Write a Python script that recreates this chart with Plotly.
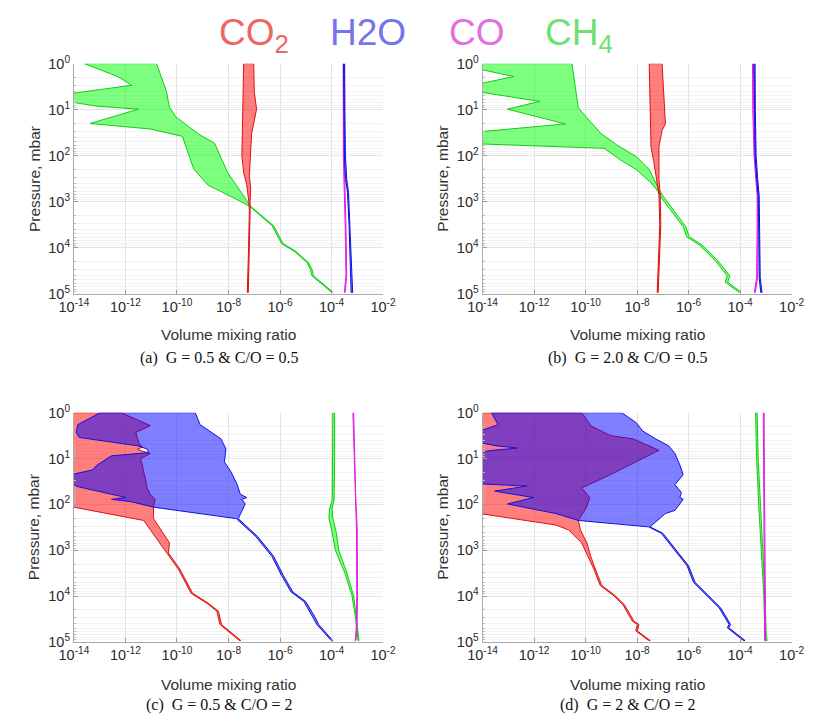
import plotly.graph_objects as go

# ---------------- data (log10 values) ----------------
# Panel (a)  G = 0.5, C/O = 0.5
A_CH4_LP = [0, 0.28, 0.47, 0.68, 0.80, 0.92, 0.99, 1.30, 1.42, 1.58, 2.29, 2.64, 2.99, 3.10, 3.52, 3.91, 4.08, 4.33, 4.47, 4.61, 4.96]
A_CH4_LX = [-13.6, -12.3, -11.76, -14.5, -14.5, -13.16, -11.5, -13.37, -11.04, -9.79, -9.35, -8.79, -7.54, -7.18, -6.31, -5.94, -5.44, -4.94, -4.82, -4.76, -4.01]
A_CH4_RP = [0, 0.6, 0.95, 1.16, 1.37, 1.53, 1.73, 2.36, 2.78, 3.10, 3.52, 3.91, 4.08, 4.33, 4.47, 4.61, 4.96]
A_CH4_RX = [-10.79, -10.41, -10.29, -10.04, -9.54, -9.16, -8.54, -8.04, -7.54, -7.14, -6.25, -5.88, -5.38, -4.88, -4.76, -4.70, -3.96]
A_CO2_LP = [0, 0.74, 2.0, 2.36, 2.64, 3.0, 3.2, 4.0, 4.97]
A_CO2_LX = [-7.41, -7.44, -7.48, -7.41, -7.29, -7.21, -7.19, -7.22, -7.27]
A_CO2_RP = [0, 0.6, 0.99, 1.30, 1.51, 2.0, 2.43, 2.71, 3.0, 3.2, 4.0, 4.97]
A_CO2_RX = [-7.02, -7.0, -6.91, -7.02, -7.10, -7.16, -7.19, -7.14, -7.16, -7.16, -7.18, -7.23]
A_H2O_P = [0, 1, 2, 2.5, 2.8, 3.5, 4.5, 4.97]
A_H2O_L = [-3.53, -3.52, -3.50, -3.46, -3.38, -3.32, -3.27, -3.24]
A_H2O_R = [-3.49, -3.48, -3.46, -3.41, -3.34, -3.28, -3.22, -3.18]
A_CO_P = [0, 1, 2, 2.5, 2.8, 3.5, 4.6, 4.97]
A_CO_L = [-3.55, -3.55, -3.54, -3.52, -3.50, -3.47, -3.44, -3.50]
A_CO_R = [-3.52, -3.52, -3.51, -3.49, -3.47, -3.44, -3.41, -3.47]

# Panel (b)  G = 2.0, C/O = 0.5
B_CH4_LP = [0, 0.1, 0.28, 0.46, 0.6, 0.82, 0.99, 1.31, 1.49, 1.74, 1.84, 2.09, 2.30, 2.59, 2.8, 2.9, 3.55, 3.76, 3.94, 4.29, 4.61, 4.75, 4.96]
B_CH4_LX = [-14.3, -14.3, -12.78, -14.3, -14.3, -11.78, -13.03, -10.78, -14.3, -14.3, -9.28, -8.65, -8.03, -7.46, -7.15, -7.08, -6.2, -6.08, -5.58, -4.95, -4.5, -4.58, -4.06]
B_CH4_RP = [0, 0.74, 0.96, 1.17, 1.52, 1.77, 2.02, 2.3, 2.73, 2.87, 3.55, 3.76, 3.94, 4.29, 4.61, 4.75, 4.96]
B_CH4_RX = [-10.53, -10.34, -10.28, -9.96, -9.4, -8.78, -8.03, -7.53, -7.15, -7.0, -6.1, -5.98, -5.48, -4.85, -4.4, -4.48, -3.98]
B_CO2_LP = [0, 1.8, 2.16, 2.52, 2.87, 3.5, 4.0, 4.97]
B_CO2_LX = [-7.53, -7.46, -7.34, -7.25, -7.15, -7.12, -7.15, -7.22]
B_CO2_RP = [0, 0.6, 1.31, 1.45, 1.8, 2.5, 2.87, 3.5, 4.0, 4.97]
B_CO2_RX = [-7.03, -6.96, -6.9, -7.03, -7.15, -7.15, -7.1, -7.08, -7.12, -7.18]
B_H2O_P = [0, 1, 2, 2.5, 2.87, 3.5, 4.65, 4.97]
B_H2O_L = [-3.46, -3.45, -3.42, -3.36, -3.30, -3.28, -3.26, -3.20]
B_H2O_R = [-3.42, -3.41, -3.38, -3.32, -3.26, -3.24, -3.22, -3.15]
B_CO_P = [0, 1, 2, 2.5, 2.87, 3.5, 4.65, 4.97]
B_CO_L = [-3.52, -3.51, -3.46, -3.40, -3.34, -3.34, -3.36, -3.45]
B_CO_R = [-3.48, -3.47, -3.42, -3.36, -3.30, -3.30, -3.32, -3.41]

# Panel (c)  G = 0.5, C/O = 2
C_CO2_LP = [0, 2.05, 2.35, 3.06, 3.41, 3.94, 4.16, 4.33, 4.62, 4.97]
C_CO2_LX = [-14.1, -14.1, -11.29, -10.41, -9.95, -9.45, -8.83, -8.45, -8.33, -7.58]
C_CO2_RP = [0, 0.28, 0.43, 0.65, 0.75, 0.8, 0.89, 1.0, 1.14, 1.43, 1.64, 1.78, 1.89, 2.06, 2.31, 2.84, 3.06, 3.41, 3.94, 4.16, 4.33, 4.62, 4.97]
C_CO2_RX = [-12.16, -11.04, -11.6, -11.48, -11.35, -11.54, -11.04, -11.41, -11.35, -11.23, -11.16, -11.04, -10.85, -10.91, -10.91, -10.29, -10.33, -9.89, -9.39, -8.77, -8.39, -8.27, -7.52]
C_H2O_LP = [0, 0.26, 0.43, 0.54, 0.72, 0.79, 0.87, 0.94, 1.14, 1.25, 1.35, 1.58, 1.78, 1.85, 1.89, 1.94, 2.06, 2.31, 2.7, 3.13, 3.55, 3.91, 4.12, 4.48, 4.62, 4.97]
C_H2O_LX = [-12.98, -13.85, -13.91, -13.79, -11.54, -11.16, -11.1, -12.54, -13.1, -13.29, -14.1, -14.1, -12.54, -11.98, -12.54, -11.79, -10.91, -7.7, -6.94, -6.32, -5.94, -5.57, -5.07, -4.69, -4.57, -4.01]
C_H2O_RP = [0, 0.26, 0.43, 0.57, 0.79, 1.07, 1.28, 1.57, 1.78, 1.85, 1.89, 1.99, 2.31, 2.7, 3.13, 3.55, 3.91, 4.12, 4.48, 4.62, 4.97]
C_H2O_RX = [-9.29, -9.1, -8.66, -8.29, -8.1, -8.16, -7.91, -7.66, -7.54, -7.29, -7.48, -7.35, -7.62, -6.87, -6.25, -5.87, -5.5, -5.0, -4.62, -4.5, -3.95]
C_CH4_P = [0, 1, 1.9, 2.1, 2.3, 2.6, 3.0, 3.5, 4.0, 4.5, 4.97]
C_CH4_L = [-3.95, -3.95, -3.97, -4.08, -4.10, -3.98, -3.85, -3.48, -3.20, -3.06, -2.97]
C_CH4_R = [-3.88, -3.88, -3.90, -3.98, -3.95, -3.82, -3.72, -3.40, -3.14, -3.02, -2.93]
C_CO_P = [0, 1.85, 2.56, 4.0, 4.7, 4.97]
C_CO_L = [-3.17, -3.09, -3.03, -3.02, -3.04, -3.08]
C_CO_R = [-3.14, -3.06, -3.00, -2.99, -3.01, -3.05]

# Panel (d)  G = 2, C/O = 2
D_CO2_LP = [0, 2.2, 2.45, 2.56, 2.84, 3.13, 3.41, 3.77, 3.98, 4.19, 4.55, 4.62, 4.76, 4.97]
D_CO2_LX = [-14.1, -14.1, -11.15, -10.65, -10.15, -9.9, -9.68, -9.43, -8.93, -8.55, -8.18, -7.99, -8.05, -7.55]
D_CO2_RP = [0, 0.29, 0.5, 0.57, 0.82, 1.07, 1.35, 1.64, 1.85, 2.06, 2.35, 2.56, 2.84, 3.13, 3.41, 3.77, 3.98, 4.19, 4.55, 4.62, 4.76, 4.97]
D_CO2_RX = [-10.15, -9.78, -9.03, -8.15, -7.15, -8.03, -9.03, -10.15, -9.84, -9.96, -10.28, -10.2, -9.95, -9.8, -9.62, -9.37, -8.87, -8.49, -8.12, -7.93, -7.99, -7.49]
D_H2O_LP = [0, 0.26, 0.4, 0.65, 0.72, 0.77, 0.82, 0.86, 1.55, 1.6, 1.71, 1.85, 1.99, 2.2, 2.35, 2.49, 2.63, 2.99, 3.34, 3.7, 3.98, 4.26, 4.62, 4.69, 4.97]
D_H2O_LX = [-13.65, -13.4, -14.1, -14.1, -13.5, -12.65, -13.6, -14.1, -14.1, -12.28, -13.53, -12.03, -13.03, -11.15, -10.28, -7.55, -7.06, -6.56, -6.06, -5.81, -5.31, -4.81, -4.43, -4.5, -3.87]
D_H2O_RP = [0, 0.22, 0.4, 0.57, 0.72, 0.89, 1.14, 1.35, 1.57, 1.74, 1.85, 1.89, 2.13, 2.2, 2.49, 2.63, 2.99, 3.34, 3.7, 3.98, 4.26, 4.62, 4.69, 4.97]
D_H2O_RX = [-8.59, -8.03, -7.78, -7.28, -6.78, -6.53, -6.34, -6.21, -6.53, -6.28, -6.34, -6.21, -6.53, -6.9, -7.5, -7.0, -6.5, -6.0, -5.75, -5.25, -4.75, -4.37, -4.44, -3.81]
D_CH4_P = [0, 1, 2, 3, 4, 4.8, 4.97]
D_CH4_L = [-3.40, -3.36, -3.28, -3.18, -3.08, -3.04, -3.02]
D_CH4_R = [-3.34, -3.30, -3.22, -3.12, -3.03, -2.99, -2.95]
D_CO_P = [0, 2, 4, 4.97]
D_CO_L = [-3.10, -3.08, -3.05, -3.05]
D_CO_R = [-3.07, -3.05, -3.02, -3.02]

X_TICK_EXP = [-14, -12, -10, -8, -6, -4, -2]
Y_TICK_EXP = [0, 1, 2, 3, 4, 5]
CAPTIONS = ["(a)  G = 0.5 &amp; C/O = 0.5", "(b)  G = 2.0 &amp; C/O = 0.5",
            "(c)  G = 0.5 &amp; C/O = 2", "(d)  G = 2 &amp; C/O = 2"]

# ---------------- styling ----------------
FILL = {"CO2": "rgba(255,0,0,0.5)", "H2O": "rgba(0,0,255,0.5)",
        "CO": "rgba(255,0,255,0.5)", "CH4": "rgba(0,255,0,0.5)"}
EDGE = {"CO2": "#dd1111", "H2O": "#1111dd", "CO": "#e020e0", "CH4": "#11cc11"}

fig = go.Figure()


def band(axis_idx, species, lp, lx, rp, rx):
    xs = [10 ** v for v in lx] + [10 ** v for v in reversed(rx)] + [10 ** lx[0]]
    ys = [10 ** v for v in lp] + [10 ** v for v in reversed(rp)] + [10 ** lp[0]]
    suffix = "" if axis_idx == 1 else str(axis_idx)
    fig.add_trace(go.Scatter(x=xs, y=ys, mode="lines", fill="toself",
                             fillcolor=FILL[species],
                             line=dict(color=EDGE[species], width=1),
                             xaxis="x" + suffix, yaxis="y" + suffix,
                             hoverinfo="skip", showlegend=False))


# panel a
band(1, "CH4", A_CH4_LP, A_CH4_LX, A_CH4_RP, A_CH4_RX)
band(1, "CO2", A_CO2_LP, A_CO2_LX, A_CO2_RP, A_CO2_RX)
band(1, "CO", A_CO_P, A_CO_L, A_CO_P, A_CO_R)
band(1, "H2O", A_H2O_P, A_H2O_L, A_H2O_P, A_H2O_R)
# panel b
band(2, "CH4", B_CH4_LP, B_CH4_LX, B_CH4_RP, B_CH4_RX)
band(2, "CO2", B_CO2_LP, B_CO2_LX, B_CO2_RP, B_CO2_RX)
band(2, "CO", B_CO_P, B_CO_L, B_CO_P, B_CO_R)
band(2, "H2O", B_H2O_P, B_H2O_L, B_H2O_P, B_H2O_R)
# panel c
band(3, "CO2", C_CO2_LP, C_CO2_LX, C_CO2_RP, C_CO2_RX)
band(3, "H2O", C_H2O_LP, C_H2O_LX, C_H2O_RP, C_H2O_RX)
band(3, "CH4", C_CH4_P, C_CH4_L, C_CH4_P, C_CH4_R)
band(3, "CO", C_CO_P, C_CO_L, C_CO_P, C_CO_R)
# panel d
band(4, "CO2", D_CO2_LP, D_CO2_LX, D_CO2_RP, D_CO2_RX)
band(4, "H2O", D_H2O_LP, D_H2O_LX, D_H2O_RP, D_H2O_RX)
band(4, "CH4", D_CH4_P, D_CH4_L, D_CH4_P, D_CH4_R)
band(4, "CO", D_CO_P, D_CO_L, D_CO_P, D_CO_R)

W, H = 823, 725
XDOM = [[61 / W, 381 / W], [484 / W, 804 / W]]
YDOM = [[1 - 291 / H, 1 - 55 / H], [1 - 648 / H, 1 - 413 / H]]

tick_font = dict(family="Liberation Sans, Arial", size=14.5, color="#2a2a2a")
minor_y = [m * 10 ** e for e in range(0, 5) for m in range(2, 10)]

layout = dict(width=W, height=H, margin=dict(l=0, r=0, t=0, b=0),
              paper_bgcolor="white", plot_bgcolor="white", showlegend=False)

for i in range(4):
    suffix = "" if i == 0 else str(i + 1)
    col, row = i % 2, i // 2
    layout["xaxis" + suffix] = dict(
        type="log", range=[-14, -2], domain=XDOM[col], anchor="y" + suffix,
        tickvals=[10 ** e for e in X_TICK_EXP],
        ticktext=["10<sup>%d</sup>" % e for e in X_TICK_EXP],
        ticks="inside", ticklen=4, tickcolor="#999999",
        showline=True, linecolor="#aaaaaa", linewidth=1,
        showgrid=True, gridcolor="#e4e4e4", gridwidth=1,
        tickfont=tick_font, zeroline=False)
    layout["yaxis" + suffix] = dict(
        type="log", range=[5, 0], domain=YDOM[row], anchor="x" + suffix,
        tickvals=[10 ** e for e in Y_TICK_EXP],
        ticktext=["10<sup>%d</sup>" % e for e in Y_TICK_EXP],
        ticks="inside", ticklen=4, tickcolor="#999999",
        showline=True, linecolor="#aaaaaa", linewidth=1,
        showgrid=True, gridcolor="#e4e4e4", gridwidth=1,
        minor=dict(tickvals=minor_y, ticks="inside", ticklen=2,
                   tickcolor="#bbbbbb", showgrid=True, gridcolor="#f3f3f3"),
        tickfont=tick_font, zeroline=False)

ann = []
# species title
for txt, x, col in [("CO<sub>2</sub>", 210, "#ee6666"), ("H2O", 325, "#7474ee"),
                    ("CO", 448, "#e070e0"), ("CH<sub>4</sub>", 548, "#70e070")]:
    ann.append(dict(text=txt, x=x / W, y=1 - 1 / H, xref="paper", yref="paper",
                    xanchor="left", yanchor="top", showarrow=False, borderpad=0,
                    font=dict(family="Liberation Sans, Arial", size=37, color=col)))

axis_font = dict(family="Liberation Sans, Arial", size=15.5, color="#333333")
cap_font = dict(family="Liberation Serif, Times New Roman", size=16, color="#111111")
xt_centers = [221, 644]
cap_centers = [211, 634]
xt_y = [333, 692]
cap_y = [357, 713]
yt_x = [20, 443]
yt_y = [173, 530]
for i in range(4):
    col, row = i % 2, i // 2
    ann.append(dict(text="Volume mixing ratio", x=xt_centers[col] / W, y=1 - xt_y[row] / H,
                    xref="paper", yref="paper", xanchor="center", yanchor="middle",
                    showarrow=False, font=axis_font))
    ann.append(dict(text="Pressure, mbar", x=yt_x[col] / W, y=1 - yt_y[row] / H,
                    xref="paper", yref="paper", xanchor="center", yanchor="middle",
                    textangle=-90, showarrow=False, font=axis_font))
    ann.append(dict(text=CAPTIONS[i], x=cap_centers[col] / W, y=1 - cap_y[row] / H,
                    xref="paper", yref="paper", xanchor="center", yanchor="middle",
                    showarrow=False, font=cap_font))
layout["annotations"] = ann

fig.update_layout(**layout)
fig.write_html("out.html")
